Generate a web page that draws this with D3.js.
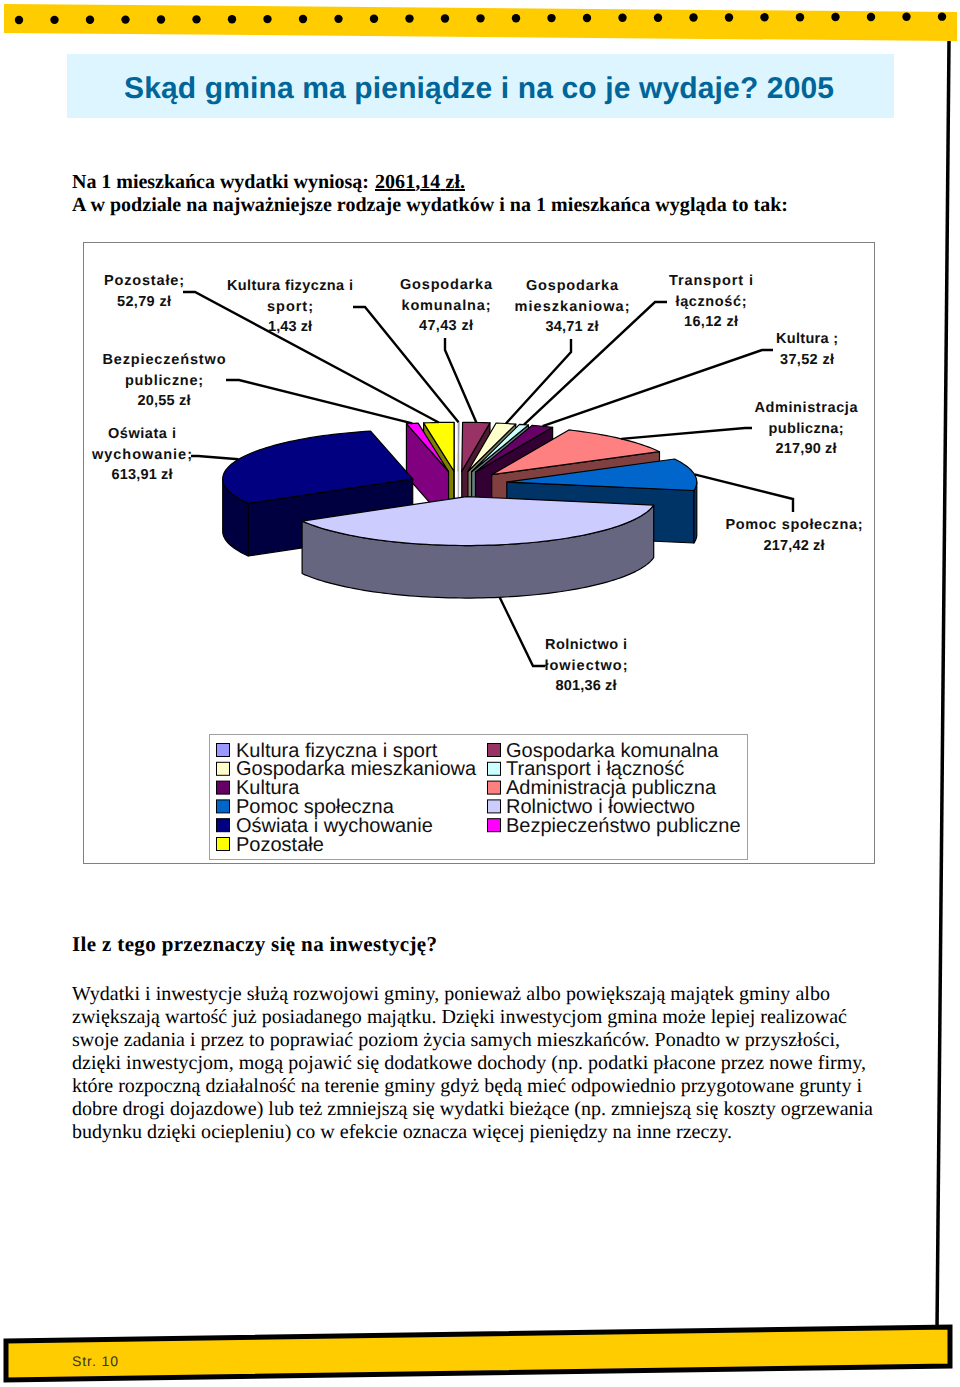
<!DOCTYPE html>
<html>
<head>
<meta charset="utf-8">
<script src="https://cdnjs.cloudflare.com/ajax/libs/d3/7.8.5/d3.min.js"></script>
<style>
body { margin: 0; background: #fff; }
svg { display: block; }
text { text-rendering: geometricPrecision; }
</style>
</head>
<body>
<div id="page"></div>
<script>
// data, in the clockwise order of the slices starting from the top
const categories = ["Kultura fizyczna i sport", "Gospodarka komunalna", "Gospodarka mieszkaniowa", "Transport i łączność", "Kultura", "Administracja publiczna", "Pomoc społeczna", "Rolnictwo i łowiectwo", "Oświata i wychowanie", "Bezpieczeństwo publiczne", "Pozostałe"];
const values = [1.43, 47.43, 34.71, 16.12, 37.52, 217.90, 217.42, 801.36, 613.91, 20.55, 52.79];
const labelLines = [["Kultura fizyczna i", "sport;"], ["Gospodarka", "komunalna;"], ["Gospodarka", "mieszkaniowa;"], ["Transport i", "łączność;"], ["Kultura ;"], ["Administracja", "publiczna;"], ["Pomoc społeczna;"], ["Rolnictwo i", "łowiectwo;"], ["Oświata i", "wychowanie;"], ["Bezpieczeństwo", "publiczne;"], ["Pozostałe;"]];
const topColors = ["#9999ff", "#993366", "#ffffcc", "#ccffff", "#660066", "#ff8080", "#0066cc", "#ccccff", "#000080", "#ff00ff", "#ffff00"];
const sideColors = ["#d8d8e8", "#4d1933", "#808066", "#668080", "#330033", "#804040", "#003366", "#666680", "#000040", "#800080", "#808000"];

// label layout: centre x, first baseline, line step, leader end and elbow, line widths
const labelPos = [
    { x: 290, y: 290, step: 20.5, end: [353, 307], elbow: [365, 307], widths: [126, 46, 44] },
    { x: 446, y: 289, step: 20.5, end: [445, 338], elbow: [445, 350], widths: [92, 89, 54] },
    { x: 572, y: 290, step: 20.5, end: [571, 339], elbow: [571, 352], widths: [92, 115, 53] },
    { x: 711, y: 285, step: 20.5, end: [667, 302], elbow: [655, 302], widths: [84, 71, 54] },
    { x: 807, y: 343, step: 20.5, end: [773, 350], elbow: [762, 350], widths: [62, 54] },
    { x: 806, y: 412, step: 20.5, end: [752, 428], elbow: [745, 428], widths: [103, 75, 61] },
    { x: 794, y: 529, step: 20.5, end: [793, 512], elbow: [793, 499], widths: [137, 61] },
    { x: 586, y: 649, step: 20.5, end: [545, 666], elbow: [533, 666], widths: [82, 83, 61] },
    { x: 142, y: 438, step: 20.5, end: [191, 456], elbow: [198, 456], widths: [68, 100, 61] },
    { x: 164, y: 364, step: 20.5, end: [226, 380], elbow: [239, 380], widths: [123, 78, 53] },
    { x: 144, y: 285, step: 20.5, end: [183, 292], elbow: [195, 292], widths: [80, 54] }
];

const introLines = [
    { text: "Na 1 mieszkańca wydatki wyniosą:", y: 188, len: 297 },
    { text: "A w podziale na najważniejsze rodzaje wydatków i na 1 mieszkańca wygląda to tak:", y: 211, len: 716 }
];
const paragraph = [
    { text: "Wydatki i inwestycje służą rozwojowi gminy, ponieważ albo powiększają majątek gminy albo", end: 830 },
    { text: "zwiększają wartość już posiadanego majątku. Dzięki inwestycjom gmina może lepiej realizować", end: 847 },
    { text: "swoje zadania i przez to poprawiać poziom życia samych mieszkańców. Ponadto w przyszłości,", end: 840 },
    { text: "dzięki inwestycjom, mogą pojawić się dodatkowe dochody (np. podatki płacone przez nowe firmy,", end: 866 },
    { text: "które rozpoczną działalność na terenie gminy gdyż będą mieć odpowiednio przygotowane grunty i", end: 862 },
    { text: "dobre drogi dojazdowe) lub też zmniejszą się wydatki bieżące (np. zmniejszą się koszty ogrzewania", end: 873 },
    { text: "budynku dzięki ociepleniu) co w efekcie oznacza więcej pieniędzy na inne rzeczy.", end: 732 }
];

const svg = d3.select("#page").append("svg")
    .attr("width", 960)
    .attr("height", 1387);

const serif = "'Liberation Serif', serif";
const sans = "'Liberation Sans', sans-serif";

// page decoration
svg.append("polygon")
    .attr("points", "4,4 957,12 957,41 4,33")
    .attr("fill", "#ffcc00");
svg.selectAll(".dot")
    .data(d3.range(27))
    .enter().append("circle")
    .attr("class", "dot")
    .attr("cx", d => 19 + d * 35.5)
    .attr("cy", d => 20 - d * 0.128)
    .attr("r", 4.2)
    .attr("fill", "#000");
svg.append("line")
    .attr("x1", 949).attr("y1", 41)
    .attr("x2", 937).attr("y2", 1330)
    .attr("stroke", "#000")
    .attr("stroke-width", 3.5);
svg.append("polygon")
    .attr("points", "6,1341 950,1327 950,1366 6,1380")
    .attr("fill", "#ffcc00")
    .attr("stroke", "#000")
    .attr("stroke-width", 5);
svg.append("text")
    .attr("x", 72).attr("y", 1366)
    .attr("textLength", 46)
    .style("font-family", sans)
    .style("font-size", "14px")
    .attr("fill", "#333")
    .text("Str. 10");

// title
svg.append("rect")
    .attr("x", 67).attr("y", 54)
    .attr("width", 827).attr("height", 64)
    .attr("fill", "#ddf5fe");
svg.append("text")
    .attr("x", 124).attr("y", 98)
    .attr("textLength", 710)
    .style("font-family", sans)
    .style("font-weight", "bold")
    .style("font-size", "30px")
    .attr("fill", "#006699")
    .text("Skąd gmina ma pieniądze i na co je wydaje? 2005");

// intro text
svg.selectAll(".intro")
    .data(introLines)
    .enter().append("text")
    .attr("class", "intro")
    .attr("x", 72)
    .attr("y", d => d.y)
    .attr("textLength", d => d.len)
    .style("font-family", serif)
    .style("font-weight", "bold")
    .style("font-size", "20px")
    .text(d => d.text);
svg.append("text")
    .attr("x", 375).attr("y", 188)
    .attr("textLength", 90)
    .style("font-family", serif)
    .style("font-weight", "bold")
    .style("font-size", "20px")
    .style("text-decoration", "underline")
    .text("2061,14 zł.");

// chart frame
svg.append("rect")
    .attr("x", 83.5).attr("y", 242.5)
    .attr("width", 791).attr("height", 621)
    .attr("fill", "#fff")
    .attr("stroke", "#808080");

// pie projected on an ellipse: unit circle coordinates go through two scales
const pieX = d3.scaleLinear().domain([-1, 1]).range([458 - 190, 458 + 190]);
const pieY = d3.scaleLinear().domain([-1, 1]).range([484 - 49, 484 + 49]);
const pieDepth = 52.5;
const explode = 0.26;

const pie = d3.pie()
    .sort(null)
    .value(d => d.value);

const slices = pie(categories.map((c, i) => ({ name: c, value: values[i], index: i })));

function sliceMid(d) {
    return (d.startAngle + d.endAngle) / 2;
}

function rimPoint(d, angle, r, drop) {
    const mid = sliceMid(d);
    const ux = r * Math.sin(angle) + explode * Math.sin(mid);
    const uy = -r * Math.cos(angle) - explode * Math.cos(mid);
    return [pieX(ux), pieY(uy) + (drop || 0)];
}

function arcAngles(a0, a1) {
    const n = Math.max(1, Math.ceil((a1 - a0) / 0.03));
    return d3.range(n + 1).map(k => a0 + (a1 - a0) * k / n);
}

const polyLine = d3.line();

function topPath(d) {
    const pts = [rimPoint(d, 0, 0)].concat(arcAngles(d.startAngle, d.endAngle).map(a => rimPoint(d, a, 1)));
    return polyLine(pts) + "Z";
}

function radialWall(d, a) {
    return polyLine([rimPoint(d, 0, 0), rimPoint(d, a, 1), rimPoint(d, a, 1, pieDepth), rimPoint(d, 0, 0, pieDepth)]) + "Z";
}

function outerWall(d) {
    const a0 = Math.max(d.startAngle, Math.PI / 2);
    const a1 = Math.min(d.endAngle, 3 * Math.PI / 2);
    if (a1 <= a0) return null;
    const angles = arcAngles(a0, a1);
    const pts = angles.map(a => rimPoint(d, a, 1)).concat(angles.slice().reverse().map(a => rimPoint(d, a, 1, pieDepth)));
    return polyLine(pts) + "Z";
}

// far slices first, so that the near ones paint over them
const drawOrder = slices.slice().sort((a, b) => -Math.cos(sliceMid(a)) + Math.cos(sliceMid(b)));

const sliceG = svg.selectAll(".slice")
    .data(drawOrder)
    .enter().append("g")
    .attr("class", "slice")
    .attr("stroke", d => d.data.value < 5 ? "#999" : "#000")
    .attr("stroke-width", d => d.data.value < 5 ? 0.6 : 1.2)
    .attr("stroke-linejoin", "round");

// a radial wall faces the viewer only on one side of the vertical axis
sliceG.filter(d => Math.sin(d.startAngle) < 0)
    .append("path")
    .attr("d", d => radialWall(d, d.startAngle))
    .attr("fill", d => sideColors[d.data.index]);
sliceG.filter(d => Math.sin(d.endAngle) > 0)
    .append("path")
    .attr("d", d => radialWall(d, d.endAngle))
    .attr("fill", d => sideColors[d.data.index]);
sliceG.filter(d => outerWall(d) !== null)
    .append("path")
    .attr("d", outerWall)
    .attr("fill", d => sideColors[d.data.index]);
sliceG.append("path")
    .attr("d", topPath)
    .attr("fill", d => topColors[d.data.index]);

// leader lines run from the rim of each slice to its label
function leaderPoints(d) {
    const mid = sliceMid(d);
    const front = Math.cos(mid) < -0.5;
    const pos = labelPos[d.data.index];
    return [pos.end, pos.elbow, rimPoint(d, mid, 1, front ? pieDepth : 0)];
}

svg.selectAll(".leader")
    .data(slices)
    .enter().append("path")
    .attr("class", "leader")
    .attr("d", d => polyLine(leaderPoints(d)))
    .attr("fill", "none")
    .attr("stroke", "#000")
    .attr("stroke-width", 2.4);

const money = v => v.toFixed(2).replace(".", ",") + " zł";

const labelG = svg.selectAll(".pie-label")
    .data(slices)
    .enter().append("g")
    .attr("class", "pie-label");

labelG.selectAll("text")
    .data(d => labelLines[d.data.index].concat(money(d.data.value)).map((t, k) => ({ t, k, pos: labelPos[d.data.index] })))
    .enter().append("text")
    .attr("x", d => d.pos.x)
    .attr("y", d => d.pos.y + d.k * d.pos.step)
    .attr("textLength", d => d.pos.widths[d.k])
    .style("font-family", sans)
    .style("font-weight", "bold")
    .style("font-size", "14.5px")
    .style("text-anchor", "middle")
    .attr("fill", "#111")
    .text(d => d.t);

// legend, two columns filled row by row
svg.append("rect")
    .attr("x", 209.5).attr("y", 734.5)
    .attr("width", 538).attr("height", 125)
    .attr("fill", "#fff")
    .attr("stroke", "#a0a0a0");

const legendX = d3.scalePoint().domain([0, 1]).range([216, 487]);
const legendY = d3.scaleLinear().domain([0, 5]).range([750, 844]);

const pieLegend = svg.selectAll(".legend")
    .data(categories)
    .enter().append("g")
    .attr("class", "legend")
    .attr("transform", (d, i) => "translate(" + legendX(i % 2) + "," + legendY(Math.floor(i / 2)) + ")");

pieLegend.append("rect")
    .attr("x", 0.5)
    .attr("y", -6.5)
    .attr("width", 13)
    .attr("height", 13)
    .attr("fill", (d, i) => topColors[i])
    .attr("stroke", "#000");

pieLegend.append("text")
    .attr("x", (d, i) => i % 2 ? 19 : 20)
    .attr("y", 6.5)
    .style("font-family", sans)
    .style("font-size", "20px")
    .attr("fill", "#111")
    .text(d => d);

// closing text
svg.append("text")
    .attr("x", 72).attr("y", 951)
    .attr("textLength", 365)
    .style("font-family", serif)
    .style("font-weight", "bold")
    .style("font-size", "21px")
    .text("Ile z tego przeznaczy się na inwestycję?");

svg.selectAll(".para")
    .data(paragraph)
    .enter().append("text")
    .attr("class", "para")
    .attr("x", 72)
    .attr("y", (d, i) => 999.5 + i * 23)
    .attr("textLength", d => d.end - 72)
    .style("font-family", serif)
    .style("font-size", "20px")
    .text(d => d.text);
</script>
</body>
</html>
